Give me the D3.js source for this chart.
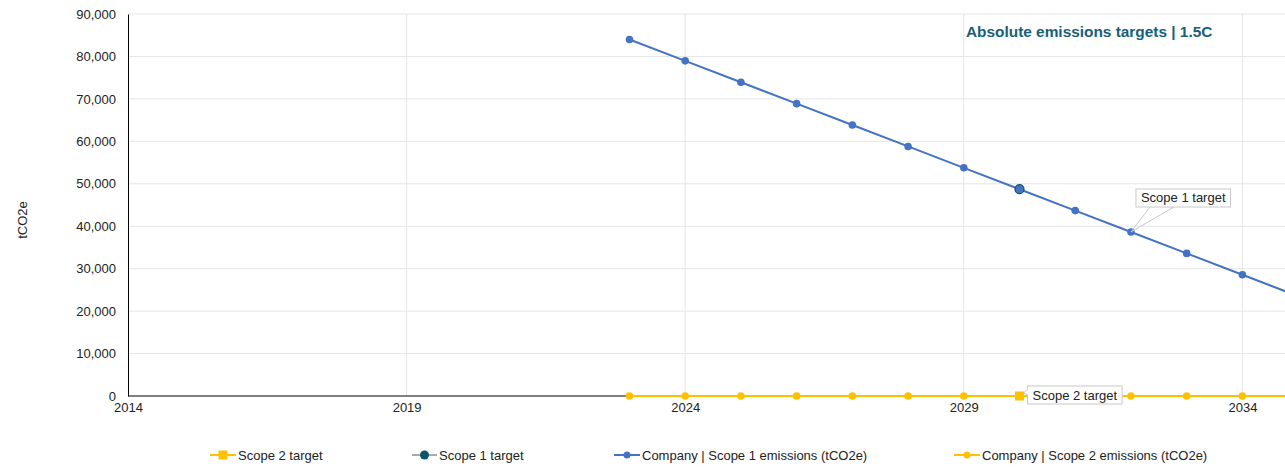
<!DOCTYPE html>
<html>
<head>
<meta charset="utf-8">
<script src="https://cdn.jsdelivr.net/npm/d3@7"></script>
<style>
  html, body { margin: 0; padding: 0; background: #fff; overflow: hidden; }
  svg { display: block; font-family: "Liberation Sans", Arial, sans-serif; }
</style>
</head>
<body>
<svg id="chart" width="1285" height="469"></svg>
<script>
// Emissions pathway data
const years = [2023, 2024, 2025, 2026, 2027, 2028, 2029, 2030, 2031, 2032, 2033, 2034, 2035];
const scope1Emissions = [84000, 78960, 73920, 68880, 63840, 58800, 53760, 48720, 43680, 38640, 33600, 28560, 23520];
const scope2Emissions = [0, 0, 0, 0, 0, 0, 0, 0, 0, 0, 0, 0, 0];
const scope1Target = [{ year: 2030, value: 48720 }];
const scope2Target = [{ year: 2030, value: 0 }];
const xTicks = [2014, 2019, 2024, 2029, 2034];
const yTicks = [0, 10000, 20000, 30000, 40000, 50000, 60000, 70000, 80000, 90000];
const chartTitle = "Absolute emissions targets | 1.5C";
const yAxisTitle = "tCO2e";
const legendItems = ["Scope 2 target", "Scope 1 target", "Company | Scope 1 emissions (tCO2e)", "Company | Scope 2 emissions (tCO2e)"];
const callouts = [
  { text: "Scope 1 target", year: 2032, value: 38640 },
  { text: "Scope 2 target", year: 2030, value: 0 }
];

const BLUE = "#4472c4", YELLOW = "#ffc000", TEAL = "#0e5569", TITLE = "#17607a";
const FONT = 13;

const svg = d3.select("#chart");
const plotLeft = 128, plotTop = 14, plotBottom = 396, plotRight = 1285;
const x = d3.scaleLinear().domain([2014, 2035]).range([plotLeft, plotLeft + 21 * 55.72]);
const y = d3.scaleLinear().domain([0, 90000]).range([plotBottom, plotTop]);

// Grid lines
const grid = svg.append("g");
grid.selectAll(".hg").data(yTicks.filter(d => d > 0)).join("line")
  .attr("x1", plotLeft).attr("x2", plotRight)
  .attr("y1", d => y(d)).attr("y2", d => y(d))
  .attr("stroke", "#e6e6e6").attr("stroke-width", 1);
grid.selectAll(".vg").data(xTicks.filter(d => d > 2014)).join("line")
  .attr("x1", d => x(d)).attr("x2", d => x(d))
  .attr("y1", plotTop).attr("y2", plotBottom)
  .attr("stroke", "#e6e6e6").attr("stroke-width", 1);

// Axes
const yAxis = d3.axisLeft(y).tickValues(yTicks).tickSize(0).tickPadding(12)
  .tickFormat(d3.format(","));
const yg = svg.append("g").attr("transform", `translate(${plotLeft},0)`).call(yAxis);
yg.select(".domain").attr("stroke", "#000");
yg.selectAll("text").attr("font-size", FONT).attr("fill", "#222")
  .attr("font-family", "Liberation Sans, Arial, sans-serif");

const xAxis = d3.axisBottom(x).tickValues(xTicks).tickSize(0).tickPadding(7)
  .tickFormat(d3.format("d"));
const xg = svg.append("g").attr("transform", `translate(0,${plotBottom})`).call(xAxis);
xg.select(".domain").attr("d", `M${plotLeft},0H${plotRight}`).attr("stroke", "#000");
xg.selectAll("text").attr("font-size", FONT).attr("fill", "#222")
  .attr("font-family", "Liberation Sans, Arial, sans-serif");

// Axis title
svg.append("text")
  .attr("transform", `translate(27,220) rotate(-90)`)
  .attr("text-anchor", "middle").attr("font-size", FONT).attr("fill", "#222")
  .text(yAxisTitle);

// Chart title
svg.append("text").attr("x", 966).attr("y", 37)
  .attr("font-size", 15.4).attr("font-weight", "bold").attr("fill", TITLE)
  .text(chartTitle);

// Series
const line = d3.line().x(d => x(d[0])).y(d => y(d[1]));
const s1 = years.map((yr, i) => [yr, scope1Emissions[i]]);
const s2 = years.map((yr, i) => [yr, scope2Emissions[i]]);

svg.append("path").datum(s2).attr("d", line)
  .attr("fill", "none").attr("stroke", YELLOW).attr("stroke-width", 2);
svg.append("g").selectAll("circle").data(s2).join("circle")
  .attr("cx", d => x(d[0])).attr("cy", d => y(d[1])).attr("r", 3.8).attr("fill", YELLOW);

svg.append("path").datum(s1).attr("d", line)
  .attr("fill", "none").attr("stroke", BLUE).attr("stroke-width", 2);
svg.append("g").selectAll("circle").data(s1).join("circle")
  .attr("cx", d => x(d[0])).attr("cy", d => y(d[1])).attr("r", 3.8).attr("fill", BLUE);

// Target markers
svg.append("g").selectAll("circle").data(scope1Target).join("circle")
  .attr("cx", d => x(d.year)).attr("cy", d => y(d.value)).attr("r", 4.5)
  .attr("fill", BLUE).attr("stroke", TEAL).attr("stroke-width", 1.2);
svg.append("g").selectAll("rect").data(scope2Target).join("rect")
  .attr("x", d => x(d.year) - 4.5).attr("y", d => y(d.value) - 4.5)
  .attr("width", 9).attr("height", 9).attr("fill", YELLOW);

// Callout labels
function callout(c, dx, dy, pointer) {
  const px = x(c.year), py = y(c.value);
  const g = svg.append("g");
  const t = g.append("text").attr("font-size", FONT).attr("fill", "#222").text(c.text);
  const w = t.node().getComputedTextLength() + 10, h = 18;
  const bx = px + dx, by = py + dy;
  t.attr("x", bx + 5).attr("y", by + 13.5);
  if (pointer === "below") {
    g.insert("path", "text")
      .attr("d", `M${bx + 14},${by + h}L${px},${py}L${bx + 38},${by + h}`)
      .attr("fill", "none").attr("stroke", "#c8c8c8").attr("stroke-width", 1);
  }
  g.insert("rect", "text").attr("x", bx).attr("y", by).attr("width", w).attr("height", h)
    .attr("fill", "#fff").attr("stroke", "#c8c8c8").attr("stroke-width", 1);
  if (pointer === "left") {
    g.insert("path", "text")
      .attr("d", `M${bx + 0.5},${by + 3}L${px + 4},${py - 3}L${bx + 0.5},${by + 9}`)
      .attr("fill", "#fff").attr("stroke", "#c8c8c8").attr("stroke-width", 1);
    g.insert("line", "text").attr("x1", bx + 0.5).attr("x2", bx + 0.5)
      .attr("y1", by + 3.5).attr("y2", by + 8.5).attr("stroke", "#fff").attr("stroke-width", 1.5);
  }
}
callout(callouts[0], 5, -43, "below");
callout(callouts[1], 8, -10, "left");

// Legend
const lg = svg.append("g").attr("font-size", FONT).attr("fill", "#222");
const legendX = [210, 412, 614, 954];
const legendW = [26, 25, 26, 26];
const legendLine = [YELLOW, "#aaaaaa", BLUE, YELLOW];
legendItems.forEach((name, i) => {
  const x0 = legendX[i], w = legendW[i], cy = 455;
  lg.append("line").attr("x1", x0).attr("x2", x0 + w).attr("y1", cy).attr("y2", cy)
    .attr("stroke", legendLine[i]).attr("stroke-width", 2);
  if (i === 0) {
    lg.append("rect").attr("x", x0 + w / 2 - 4.5).attr("y", cy - 4.5)
      .attr("width", 9).attr("height", 9).attr("fill", YELLOW);
  } else if (i === 1) {
    lg.append("circle").attr("cx", x0 + w / 2).attr("cy", cy).attr("r", 4.5).attr("fill", TEAL);
  } else {
    lg.append("circle").attr("cx", x0 + w / 2).attr("cy", cy).attr("r", 3.5).attr("fill", legendLine[i]);
  }
  lg.append("text").attr("x", x0 + w + 2).attr("y", cy + 4.5).text(name);
});
</script>
</body>
</html>
